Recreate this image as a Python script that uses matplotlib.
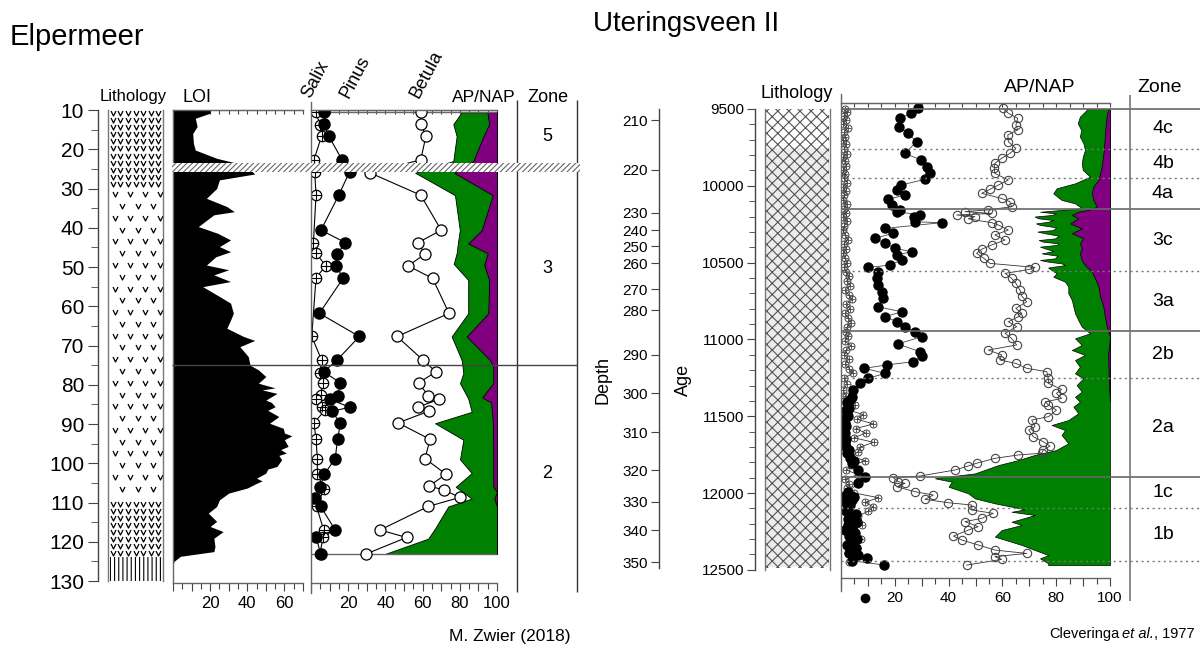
import numpy as np
import matplotlib
matplotlib.use("Agg")
import matplotlib.pyplot as plt
from matplotlib.patches import Rectangle
from matplotlib.path import Path
from matplotlib.ticker import MultipleLocator, FixedLocator

plt.rcParams['font.family'] = ['Liberation Sans', 'DejaVu Sans']
plt.rcParams['hatch.linewidth'] = 0.8

GREEN = '#008000'
PURPLE = '#800080'

# ---------------- Elpermeer (depth in cm) ----------------
loi_depth = [10, 10.8, 12.1, 14.2, 16, 18.5, 20.2, 22.3, 23.4, 24.5, 26.3, 27.8, 30, 32.5,
             34.6, 35.9, 36.7, 39.7, 41.4, 43.1, 44.8, 46.1, 47.4, 49.5, 50.7, 52, 53.7, 55,
             57.5, 59.2, 61.8, 63.5, 65.6, 67.7, 68.7, 70.3, 72.8, 75, 76.2, 77.9, 79.6, 80.8,
             81.3, 82.2, 83.9, 84.5, 85.6, 86.5, 88.1, 89.8, 91.1, 92.3, 93, 94, 95.7, 96.5,
             97.4, 98, 99.1, 100.8, 101.5, 102.5, 103.8, 104.5, 105.1, 106.3, 107.6, 109.3,
             111, 112.7, 114.8, 116.1, 117.4, 119.1, 121.2, 122.5, 123.7, 125, 126]
loi_value = [20, 20, 12, 13, 10.6, 11, 12, 23.5, 33, 40, 44, 25, 23.5, 18,
             29, 33, 22, 13.6, 24, 31, 25, 31, 23, 18, 30, 22, 31, 16,
             25, 31, 32.5, 31, 29, 38, 44, 36, 40.5, 41.5, 46, 50, 46, 55,
             48, 56, 50, 53, 55, 51, 57, 52, 59.4, 60, 64, 60, 62, 58,
             61, 57, 58.5, 56, 51, 50, 45, 48, 45, 40, 30, 25,
             23.5, 19, 23.5, 20, 27, 22, 22.6, 22, 4, 0.5, 0]

el_salix_depth = [10.6, 13.8, 16.6, 22.7, 25.7, 31.7, 43.8, 46.5, 49.7, 52.7, 67.7, 73.7, 76.9,
                  79.6, 82.6, 83.5, 85.6, 86.5, 89.7, 93.9, 98.8, 102.7, 106.6, 111, 117, 118.7, 123.1]
el_salix = [2.7, 4.8, 5.7, 1.6, 2, 2.7, 1.3, 2.7, 8, 2.7, 0.4, 5.7, 4.8,
            6.3, 5.2, 2.7, 5.7, 7.5, 1.6, 2.7, 3.4, 3.4, 7, 3, 6.8, 6.5, 4.8]

el_pinus_depth = [10.6, 13.6, 16.6, 22.7, 25.7, 31.7, 40.6, 43.8, 46.7, 49.7, 52.9, 61.8, 67.7,
                  73.7, 76.7, 79.5, 82.8, 83.7, 85.7, 86.8, 89.8, 93.9, 98.8, 102.8, 106, 108.9,
                  111, 117, 118.7, 123.1]
el_pinus = [7.2, 7.2, 9.5, 16.7, 20.8, 14.9, 5.4, 18.5, 14, 13.6, 17.2, 4.5, 26,
            14, 6.8, 15.8, 14.3, 10, 20.8, 11.3, 15.8, 14.3, 13, 7.2, 4.8, 2.2,
            5.2, 13, 2.7, 5.2]

el_betula_depth = [10.6, 13.6, 16.6, 22.7, 26, 31.7, 40.6, 43.8, 46.7, 49.7, 52.9, 61.8, 67.7,
                   73.7, 76.7, 79.5, 82.8, 83.7, 85.7, 86.7, 89.7, 93.9, 98.8, 102.8, 105.8,
                   106.8, 108.7, 111, 117, 118.9, 123.1]
el_betula = [59, 59, 61.8, 59, 31.7, 59, 70, 57.5, 61.3, 52.2, 65.4, 74.2, 46.3,
             60.2, 67.2, 57.9, 63, 68.8, 57.5, 63.5, 46.8, 64, 61.3, 72.6, 63.5,
             71.5, 80, 63, 37.1, 51.4, 29.6]

el_ap_depth = [10.6, 13.6, 16.7, 23, 26, 31.7, 40.6, 43.8, 46.5, 49.2, 53.3, 61.8, 67.7, 73.7,
               77, 79.6, 83.5, 86.9, 89.8, 94, 99, 102.5, 106, 109, 111, 116.6, 119.2, 123.1]
el_ap = [81, 76.5, 78.3, 76.5, 56, 77.4, 80, 79, 78.3, 76.7, 84.5, 84.5, 75.6, 81,
         81.9, 80.1, 84.5, 86.4, 66.7, 81.9, 80.1, 86.4, 77.8, 86.4, 73.8, 66.7, 63, 39.8]
el_nap_depth = [10.6, 13.6, 16.7, 23, 26, 31.7, 40.6, 44, 46.5, 49.5, 53.3, 61.8, 67.7, 73.7,
                75.4, 79.6, 83.2, 84.5, 86.9, 89.8, 97.5, 106, 107.3, 109, 111, 123.1]
el_nap = [94.8, 95.8, 92.7, 87.3, 77, 97.7, 91.8, 84.5, 95, 93.1, 95.8, 95.3, 83.7, 96.2,
          98, 98, 92, 96.8, 97.3, 97.8, 98, 98, 100, 98.5, 100, 100]

el_litho_tops = [10, 30, 109.5, 124]
el_litho_bottoms = [30, 109.5, 124, 130]
el_litho_kind = ['dense', 'sparse', 'dense', 'lines']
el_hiatus = (23.4, 25.9)
el_zone_bounds = [10, 23.4, 25.9, 75, 130]
el_zone_names = ['5', None, '3', '2']

# ---------------- Uteringsveen II (age in yr) ----------------
ut_depth_ticks = [210, 220, 230, 240, 250, 260, 270, 280, 290, 300, 310, 320, 330, 340, 350]
ut_depth_ages = [9572, 9897, 10177, 10288, 10392, 10503, 10672, 10809, 11101, 11349, 11603,
                 11850, 12058, 12241, 12449]

ut_pinus_age = [9495, 9528, 9561, 9615, 9658, 9713, 9789, 9832, 9876, 9919, 9958, 9995, 10027,
                10060, 10088, 10125, 10157, 10168, 10190, 10201, 10234, 10240, 10277, 10309,
                10342, 10374, 10407, 10429, 10450, 10483, 10516, 10531, 10559, 10602, 10646,
                10689, 10733, 10787, 10820, 10852, 10885, 10917, 10950, 10982, 11030, 11080,
                11108, 11145, 11166, 11188, 11221, 11253, 11286, 11329, 11373, 11395, 11410,
                11427, 11445, 11460, 11481, 11500, 11520, 11546, 11565, 11580, 11611, 11630,
                11650, 11676, 11700, 11720, 11741, 11770, 11790, 11806, 11850, 11893, 11937,
                11991, 12010, 12025, 12045, 12060, 12080, 12100, 12120, 12135, 12154, 12170,
                12190, 12208, 12225, 12240, 12262, 12280, 12300, 12317, 12340, 12355, 12371,
                12390, 12405, 12425, 12440, 12469]
ut_pinus = [28.7, 26, 21.9, 21.5, 24.8, 28.1, 23.8, 29.7, 31.9, 33, 31.2, 22.3, 20.7,
            23.8, 17.6, 18.8, 21.9, 20.7, 29.4, 27.0, 27.5, 37.4, 16.4, 19.4,
            12.6, 16.4, 20.1, 26.3, 20.7, 22.6, 18.2, 10.1, 13.9, 13.3, 13.9,
            15.1, 15.7, 13.6, 22.6, 16.4, 20.7, 23.8, 27.5, 30, 21.1, 29.4,
            30.2, 26.9, 17, 8.7, 16.4, 10.1, 7.1, 4.6, 4, 3.5, 2.2,
            2.7, 3.0, 1.8, 2.2, 2.6, 1.2, 1.5, 2.0, 1.0, 1.5, 1.2,
            2.0, 1.5, 1.8, 2.8, 2.2, 3.2, 5.0, 4, 6.4, 8.9, 6.4,
            2.7, 2.0, 5.0, 4, 1.5, 3.5, 2.7, 1.8, 5.5, 4.6, 2.5,
            6.0, 2.7, 4.0, 1.6, 5.2, 3.0, 6.0, 3.2, 2.2, 5.5, 4.6,
            3.0, 6.5, 9.5, 4.0, 16.1]
ut_pinus_stray = ([12680], [9])

ut_betula_age = [9495, 9528, 9561, 9604, 9636, 9669, 9713, 9756, 9789, 9821, 9854, 9886, 9919,
                 9962, 9995, 10023, 10049, 10082, 10103, 10136, 10157, 10168, 10180, 10190,
                 10201, 10215, 10240, 10255, 10288, 10320, 10353, 10385, 10413, 10440, 10472,
                 10505, 10531, 10544, 10570, 10602, 10635, 10678, 10717, 10755, 10798, 10830,
                 10852, 10885, 10917, 10960, 10993, 11036, 11069, 11101, 11134, 11156, 11188,
                 11210, 11253, 11286, 11325, 11351, 11384, 11406, 11427, 11460, 11503, 11525,
                 11568, 11590, 11633, 11666, 11694, 11720, 11741, 11752, 11774, 11806, 11824,
                 11850, 11889, 11900, 11926, 11937, 11959, 11991, 12013, 12041, 12063, 12078,
                 12110, 12132, 12165, 12186, 12219, 12241, 12280, 12306, 12338, 12371, 12393,
                 12414, 12432, 12469]
ut_betula = [60.3, 62.2, 65.7, 65, 65.7, 62, 62.2, 65, 62.8, 59.7, 57.2, 57, 57.2,
             62.2, 58.5, 55.4, 52.3, 59.7, 62.8, 63.4, 54.8, 46.1, 56, 43,
             49.8, 47.3, 56, 58.5, 62.2, 57.2, 61, 56, 52.3, 50.4, 53.1,
             55.4, 72.1, 70, 61, 63.4, 65, 66.5, 67.2, 69, 65, 67.2,
             65.9, 62.2, 65.3, 61, 63.4, 65.3, 54.8, 59.7, 59.1, 65, 69,
             76.5, 77.1, 77.1, 82, 80.1, 82, 76, 77.1, 80.1, 77.1, 70.9,
             72.1, 69.8, 71.5, 75.2, 77.7, 75.2, 74.6, 65.9, 57.2, 50.4, 47.3,
             42.4, 29.4, 19.4, 21.3, 23.8, 20.7, 27.5, 34.3, 31.2, 39.9, 48.6,
             48.6, 56.6, 52.3, 46.1, 51, 47.3, 41.8, 44.9, 51, 57.2, 69,
             57.2, 59.7, 46.7]

ut_salix_age = [9500, 9520, 9545, 9570, 9600, 9625, 9650, 9680, 9705, 9730, 9760, 9790, 9815,
                9840, 9870, 9900, 9925, 9950, 9980, 10010, 10035, 10060, 10090, 10120, 10150,
                10175, 10200, 10230, 10260, 10290, 10320, 10350, 10380, 10410, 10440, 10470,
                10500, 10530, 10560, 10590, 10620, 10650, 10680, 10710, 10740, 10770, 10800,
                10830, 10860, 10890, 10920, 10950,
                10980, 11010, 11040, 11070, 11100, 11130, 11160, 11190, 11220, 11250, 11290,
                11330, 11370, 11400, 11430,
                11460, 11490, 11520, 11550, 11580, 11610, 11640, 11670, 11700, 11730, 11760,
                11790, 11820,
                11850, 11880, 11910, 11940, 11970, 12000,
                12030, 12060, 12090, 12120, 12150, 12180, 12210, 12240, 12270, 12300, 12330,
                12360, 12390, 12420, 12450]
ut_salix = [1.5, 2.2, 1.0, 1.8, 0.8, 2.5, 1.2, 1.6, 0.6, 1.9, 1.1, 2.3, 0.9,
            1.4, 2.0, 0.7, 1.5, 1.1, 2.4, 0.8, 1.7, 1.3, 0.9, 2.1, 1.0,
            1.8, 0.9, 2.2, 1.3, 0.7, 1.6, 2.5, 1.0, 1.9, 0.8, 1.4,
            2.2, 1.1, 1.7, 3.0, 2.1, 3.5, 1.6, 2.8, 4.2, 2.0, 3.3,
            1.5, 2.6, 3.8, 2.4, 1.8,
            2.5, 1.4, 3.6, 2.0, 1.2, 2.8, 1.6, 3.1, 4.5, 1.3, 2.2,
            0.9, 1.8, 1.1, 5.2,
            3.0, 8.3, 6.0, 12.0, 5.5, 9.2, 4.8, 12.1, 7.1, 6.4, 3.9,
            9.0, 4.2,
            2.0, 6.3, 1.5, 3.1, 2.4, 5.0,
            13.9, 9.0, 12.0, 10.0, 6.4, 4.3, 7.7, 5.0, 3.2, 7.5, 4.0,
            5.8, 2.7, 4.6, 3.0]

ut_ap_age = [9500, 9507, 9550, 9593, 9637, 9680, 9723, 9767, 9810, 9854, 9897, 9941, 9984,
             10016, 10049, 10092, 10114, 10146, 10169, 10180, 10190, 10200, 10212, 10223,
             10234, 10245, 10255, 10270, 10288, 10298, 10309, 10325, 10342, 10353, 10364,
             10375, 10385, 10396, 10407, 10425, 10440, 10455, 10472, 10483, 10494, 10505,
             10516, 10532, 10548, 10570,
             10592, 10624, 10657, 10700, 10743, 10787, 10830, 10874, 10917, 10960, 10993,
             11036, 11069, 11101, 11134, 11178, 11221, 11253, 11297, 11340, 11373, 11406,
             11438, 11481, 11525, 11557, 11590, 11622, 11676, 11720, 11752, 11785, 11818,
             11872, 11904, 11926, 11959, 12002, 12035, 12067, 12106, 12122, 12143, 12187,
             12208, 12241, 12284, 12338, 12371, 12404, 12425, 12458, 12469]
ut_ap = [91.3, 91.3, 88.8, 88, 89.3, 88.8, 90.1, 90.7, 89.9, 89.5, 89.9, 92.6, 87,
         80.2, 78.9, 82, 87, 89.5, 74, 80, 78.3, 72, 73.4, 79,
         77.1, 72.5, 74, 80, 78.9, 73, 75.8, 81, 79.6, 73.5, 75.2,
         81, 80.2, 74, 75.8, 79, 74.6, 80.5, 79.6, 74, 77.1, 82,
         83.3, 77, 78.3, 80.2,
         78.9, 83.3, 84.5, 84.5, 85.8, 86.4, 87, 88.2, 89.5, 92.6, 87,
         89.5, 85.8, 90.7, 87, 88.8, 87, 90.1, 87.6, 89.5, 87, 88.8,
         86.4, 88.2, 84.5, 78.3, 83.3, 82, 84.5, 80, 72, 66, 58.5,
         49.8, 34.9, 41.2, 40, 47.3, 49.8, 57.2, 68.4, 63.4, 72.1, 63.4,
         67.2, 59.7, 57.2, 67.2, 72.1, 77.1, 74, 77.1, 77]
ut_nap_age = [9500, 9507, 9539, 9626, 9767, 9876, 9962, 10005, 10049, 10092, 10136, 10157,
              10169, 10190, 10212, 10245, 10277, 10309, 10342, 10374, 10407, 10440, 10483,
              10516, 10559, 10602, 10657, 10722, 10787, 10852, 10917, 10982, 11100, 11300, 11400]
ut_nap = [99.3, 99.3, 98.8, 98.3, 97.7, 96.9, 95.7, 93.8, 93.2, 93.8, 95.1, 92,
          88.2, 85.8, 88.2, 85.1, 89.5, 85.8, 90.1, 88.8, 89.5, 88.8, 89.5,
          90.7, 93.2, 94.4, 95.7, 96.3, 97.5, 98.1, 98.8, 100, 99.3, 99.6, 100]

ut_litho_age = (9500, 12490)
ut_litho_grey = (9754, 12480)
ut_zone_bounds = [9500, 9760, 9949, 10151, 10555, 10945, 11252, 11896, 12098, 12443]
ut_zone_solid = [True, False, False, True, False, True, False, True, False, False]
ut_zone_names = ['4c', '4b', '4a', '3c', '3a', '2b', '2a', '1c', '1b']

# ---------------- layout helpers ----------------
W, H = 1200, 648
fig = plt.figure(figsize=(12, 6.48), dpi=100)
VMARK = Path([(-1, 1), (0, -1), (1, 1)], [Path.MOVETO, Path.LINETO, Path.LINETO])


def pax(x0, y0, x1, y1, **kw):
    ax = fig.add_axes([x0 / W, 1 - y1 / H, (x1 - x0) / W, (y1 - y0) / H], **kw)
    ax.patch.set_alpha(0)
    return ax


def only_spines(ax, keep, color='#444444'):
    for k, s in ax.spines.items():
        s.set_visible(k in keep)
        s.set_color(color)
        s.set_linewidth(1.0)


def percent_axis(ax, xmax, labels, fs):
    ax.set_xlim(0, xmax)
    only_spines(ax, ['left', 'top', 'bottom'], '#666666')
    ax.xaxis.set_minor_locator(MultipleLocator(5))
    ax.set_xticks(range(0, xmax + 1, 10))
    ax.set_xticklabels([str(v) if v in labels else '' for v in range(0, xmax + 1, 10)])
    ax.tick_params(axis='x', which='major', length=6, width=0.8, labelsize=fs, pad=3, color='#444')
    ax.tick_params(axis='x', which='minor', length=4, width=0.8, color='#444')
    ax.tick_params(axis='y', left=False, labelleft=False)
    sec = ax.secondary_xaxis('top')
    sec.xaxis.set_major_locator(MultipleLocator(5))
    sec.tick_params(direction='in', length=3, width=0.8, labeltop=False, color='#444')
    sec.spines['top'].set_color('#666666')


def text(x, y, s, **kw):
    kw.setdefault('ha', 'center')
    kw.setdefault('va', 'center')
    return fig.text(x / W, 1 - y / H, s, **kw)


# ================= Elpermeer =================
YL = (130.5, 10)

axd = pax(98, 110, 99, 583)
axd.set_ylim(*YL)
only_spines(axd, ['left'])
axd.spines['left'].set_bounds(10, 130)
axd.set_yticks(range(10, 131, 10))
axd.yaxis.set_minor_locator(FixedLocator(np.arange(15, 130, 10)))
axd.tick_params(axis='y', which='major', length=7, labelsize=15, pad=3, color='#444')
axd.tick_params(axis='y', which='minor', length=5, color='#444')
axd.set_xticks([])

# lithology column
axl = pax(108, 110, 163, 583)
axl.set_ylim(*YL)
axl.set_xlim(0, 1)
only_spines(axl, ['left', 'right'], '#777777')
axl.spines['left'].set_bounds(10, 130)
axl.spines['right'].set_bounds(10, 130)
axl.set_xticks([])
axl.set_yticks([])
vstyle = dict(ls='none', marker=VMARK, ms=3.6, mfc='none', mec='k', mew=0.9)
for top, bot, kind in zip(el_litho_tops, el_litho_bottoms, el_litho_kind):
    if kind == 'dense':
        rows = np.arange(top + 0.8, bot - 0.3, 1.8)
        cols = np.linspace(0.09, 0.91, 7)
        xx, yy = np.meshgrid(cols, rows)
        axl.plot(xx.ravel(), yy.ravel(), **vstyle)
    elif kind == 'sparse':
        rows = np.arange(top + 1.5, bot, 3.0)
        for i, r in enumerate(rows):
            cols = [0.12, 0.4, 0.68, 0.94] if i % 2 == 0 else [0.26, 0.54, 0.82]
            axl.plot(cols, [r] * len(cols), **vstyle)
    else:
        axl.add_patch(Rectangle((0.03, top), 0.94, bot - top, hatch='||||', facecolor='none',
                                edgecolor='k', lw=0))

# LOI
axi = pax(173, 110, 303, 583)
axi.set_ylim(*YL)
percent_axis(axi, 70, [20, 40, 60], 12)
axi.fill_betweenx(loi_depth, 0, loi_value, color='black', lw=0)

# pollen
axp = pax(311, 110, 497, 583)
axp.set_ylim(*YL)
percent_axis(axp, 100, [20, 40, 60, 80, 100], 12)
axp.spines['left'].set_bounds(8, 133)
axp.fill_betweenx(el_ap_depth, el_ap, 100, color=GREEN, lw=0.6, edgecolor='k')
axp.fill_betweenx(el_nap_depth, el_nap, 100, color=PURPLE, lw=0.6, edgecolor='k')
axp.hlines([min(el_betula_depth), max(el_betula_depth)], 0, 100, color='#666666', lw=1)
axp.plot(el_betula, el_betula_depth, color='k', lw=0.8, marker='o', ms=8, mfc='white',
         mec='k', mew=0.9)
axp.plot(el_salix, el_salix_depth, color='k', lw=0.8, marker='o', ms=7.5, mfc='white',
         mec='k', mew=0.9)
axp.plot(el_salix, el_salix_depth, ls='none', marker='+', ms=7.5, color='k', mew=0.8)
axp.plot(el_pinus, el_pinus_depth, color='k', lw=0.8, marker='o', ms=8, mfc='k', mec='k')

# overlay: hiatus band, zone lines
axo = pax(98, 110, 580, 583)
axo.set_ylim(*YL)
axo.set_xlim(98, 580)
axo.axis('off')
axo.add_patch(Rectangle((172, el_hiatus[0]), 580 - 172, el_hiatus[1] - el_hiatus[0],
                        hatch='//////', facecolor='white', edgecolor='#666666', lw=0, zorder=5))
axo.hlines(el_zone_bounds[3], 172, 577, color='#444444', lw=1, zorder=6)
axo.vlines([517, 577], 7.5, 132.8, color='#333333', lw=1, clip_on=False)
for top, bot, name in zip(el_zone_bounds[:-1], el_zone_bounds[1:], el_zone_names):
    if name:
        axo.text(547, (top + bot) / 2, name, ha='center', va='center', fontsize=13)

text(10, 37, 'Elpermeer', fontsize=21, ha='left')
text(133, 97, 'Lithology', fontsize=12)
text(183, 97, 'LOI', fontsize=13, ha='left')
for lab, x in [('Salix', 314), ('Pinus', 352), ('Betula', 422)]:
    fig.text(x / W, 1 - 101 / H, lab, rotation=62, rotation_mode='anchor', ha='left',
             va='bottom', fontsize=13)
text(484, 97, 'AP/NAP', fontsize=12.5)
text(548, 97, 'Zone', fontsize=13)
text(510, 637, 'M. Zwier (2018)', fontsize=12.5)

# ================= Uteringsveen II =================
YR = (12553, 9461)

axdd = pax(659, 103, 660, 578)
axdd.set_ylim(*YR)
only_spines(axdd, ['left'])
axdd.spines['left'].set_bounds(9500, 12490)
axdd.set_yticks(ut_depth_ages)
axdd.set_yticklabels([str(d) for d in ut_depth_ticks])
axdd.tick_params(axis='y', length=6, labelsize=11, pad=2, color='#444')
axdd.set_xticks([])

axa = pax(755, 103, 756, 578)
axa.set_ylim(*YR)
only_spines(axa, ['left'])
axa.spines['left'].set_bounds(9500, 12500)
axa.set_yticks(range(9500, 12501, 500))
axa.yaxis.set_minor_locator(MultipleLocator(100))
axa.tick_params(axis='y', which='major', length=6, labelsize=11, pad=2, color='#444')
axa.tick_params(axis='y', which='minor', length=4, color='#444')
axa.set_xticks([])

text(603, 380, 'Depth', fontsize=13, rotation=90)
text(683, 380, 'Age', fontsize=13, rotation=90)

axr = pax(765, 103, 830, 578)
axr.set_ylim(*YR)
axr.set_xlim(0, 1)
only_spines(axr, ['left', 'right'], '#777777')
axr.spines['left'].set_bounds(9500, 12500)
axr.spines['right'].set_bounds(9500, 12500)
axr.set_xticks([])
axr.set_yticks([])
axr.add_patch(Rectangle((0.02, ut_litho_age[0]), 0.96, ut_litho_age[1] - ut_litho_age[0],
                        hatch='xxx', facecolor='white', edgecolor='#555555', lw=0))
axr.add_patch(Rectangle((0.02, ut_litho_grey[0]), 0.96, ut_litho_grey[1] - ut_litho_grey[0],
                        hatch='xxx', facecolor='#ececec', edgecolor='#555555', lw=0))
text(797, 93, 'Lithology', fontsize=13)

axu = pax(841, 103, 1110, 578)
axu.set_ylim(*YR)
percent_axis(axu, 100, [20, 40, 60, 80, 100], 11)
axu.spines['left'].set_bounds(9400, 12640)
axu.fill_betweenx(ut_ap_age, ut_ap, 100, color=GREEN, lw=0.5, edgecolor='k')
axu.fill_betweenx(ut_nap_age, ut_nap, 100, color=PURPLE, lw=0.5, edgecolor='k')
axu.plot(ut_betula, ut_betula_age, color='#333333', lw=0.6, marker='o', ms=6, mfc='none',
         mec='#444444', mew=0.8)
axu.plot(ut_salix, ut_salix_age, color='#333333', lw=0.6, marker='o', ms=5, mfc='none',
         mec='#444444', mew=0.7)
axu.plot(ut_salix, ut_salix_age, ls='none', marker='+', ms=5, color='#444444', mew=0.6)
axu.plot(ut_pinus, ut_pinus_age, color='#444444', lw=0.6, marker='o', ms=6.5, mfc='k', mec='k')
axu.plot(*ut_pinus_stray[::-1], ls='none', marker='o', ms=6, color='k', clip_on=False)

axz = pax(841, 103, 1200, 578)
axz.set_ylim(*YR)
axz.set_xlim(841, 1200)
axz.axis('off')
for b, solid in zip(ut_zone_bounds, ut_zone_solid):
    if solid:
        axz.hlines(b, 841, 1200, color='#666666', lw=1.2)
    else:
        axz.hlines(b, 841, 1200, color='#777777', lw=1, linestyles=(0, (1.5, 2.5)))
axz.vlines(1130, 9410, 12700, color='#777777', lw=1.2, clip_on=False)
bounds = ut_zone_bounds
for top, bot, name in zip(bounds[:-1], bounds[1:], ut_zone_names):
    axz.text(1163, (top + bot) / 2, name, ha='center', va='center', fontsize=14)

text(1040, 88, 'AP/NAP', fontsize=14)
text(1160, 88, 'Zone', fontsize=14)
text(593, 24, 'Uteringsveen II', fontsize=20, ha='left')

# citation with italic "et al."
fig.canvas.draw()
r = fig.canvas.get_renderer()
t3 = text(1195, 634, ', 1977', fontsize=10.5, ha='right')
x3 = t3.get_window_extent(r).x0
t2 = fig.text(x3 / W, 1 - 634 / H, 'et al.', fontsize=10.5, ha='right', va='center',
              style='italic')
x2 = t2.get_window_extent(r).x0
fig.text((x2 - 3) / W, 1 - 634 / H, 'Cleveringa', fontsize=10.5, ha='right', va='center')

fig.savefig('out.png', dpi=100)
